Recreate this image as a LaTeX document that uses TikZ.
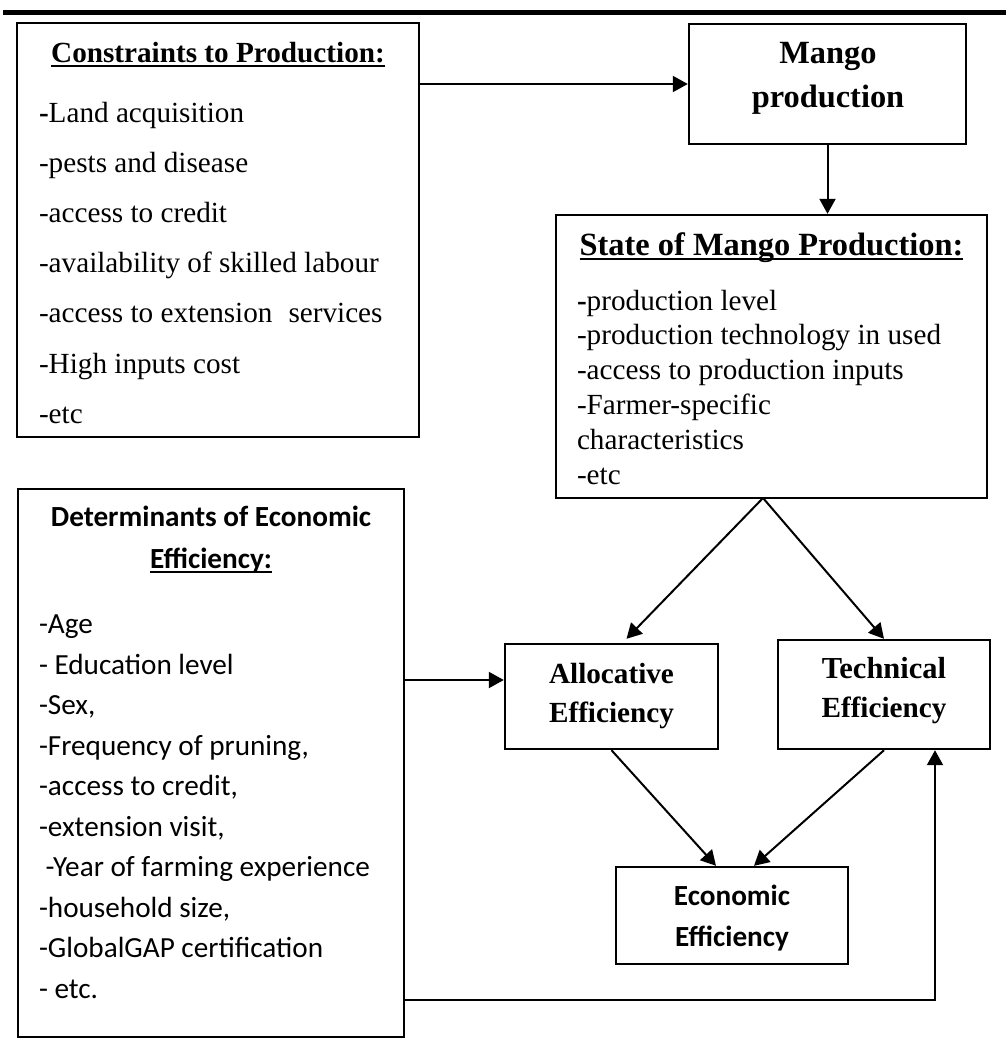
\documentclass[tikz,border=0pt]{standalone}
\usepackage{fontspec}
\setmainfont{Liberation Serif}
\newfontfamily\calibri{Carlito}
\usetikzlibrary{arrows.meta,calc,positioning}
\newcommand{\ultext}[1]{\setbox0\hbox{#1}\rlap{\rule[-5pt]{\wd0}{2pt}}\box0}

\begin{document}
\begin{tikzpicture}[x=1pt, y=-1pt, line width=2pt,
    every node/.style={inner sep=0pt, font=\fontsize{29.2}{35}\selectfont},
    box/.style={draw, line width=2.4pt},
    head/.style={anchor=base, font=\fontsize{29.2}{35}\selectfont\bfseries},
    bighead/.style={anchor=base, font=\fontsize{32.4}{38}\selectfont\bfseries},
    item/.style={anchor=base west},
    arr/.style={-{Triangle[length=15pt,width=16pt]}, line width=2pt}]

    % Page and top rule
    \useasboundingbox (0,0) rectangle (1006,1044);
    \fill (3,9.5) rectangle (1006,14.5);

    % Constraints to production
    \node[box, minimum width=402, minimum height=414] (cons) at (218,230) {};
    \node[head] (consT) at (218,62) {\ultext{Constraints to Production:}};
    \foreach \txt [count=\i from 0] in {{\textbf{-}Land acquisition}, -pests and disease,
        -access to credit, -availability of skilled labour,
        {-access to extension\hspace{16pt}services}, -High inputs cost, -etc}
        \node[item] (cons\i) at (38,{122+50.2*\i}) {\txt};

    % Mango production
    \node[box, minimum width=277, minimum height=120] (mango) at (827.5,84) {};
    \node[bighead] (mangoA) at (828,63) {Mango};
    \node[bighead] (mangoB) at (828,107) {production};

    % State of mango production
    \node[box, minimum width=431, minimum height=283] (state) at (771.5,356.5) {};
    \node[bighead] (stateT) at (771.5,255) {\ultext{State of Mango Production:}};
    \foreach \txt [count=\i from 0] in {{\textbf{-}production level},
        -production technology in used, -access to production inputs,
        -Farmer-specific, characteristics, -etc}
        \node[item] (state\i) at (576,{310+34.8*\i}) {\txt};

    % Determinants of economic efficiency
    \node[box, minimum width=386, minimum height=548] (det) at (211,763) {};
    \node[head, font=\fontsize{29.2}{35}\calibri\bfseries] (detT) at (211,526) {Determinants of Economic};
    \node[head, font=\fontsize{29.2}{35}\calibri\bfseries] (detU) at (211,568) {\ultext{Efficiency:}};
    \foreach \txt [count=\i from 0] in {-Age, - Education level, {-Sex,},
        {-Frequency of pruning,}, {-access to credit,}, {-extension visit,},
        \ -Year of farming experience, {-household size,},
        -GlobalGAP certification, - etc.}
        \node[item, font=\fontsize{29.2}{35}\calibri] (det\i) at (38,{633.5+40.5*\i}) {\txt};

    % Efficiency boxes
    \node[box, minimum width=213, minimum height=105] (alloc) at (611.5,696.5) {};
    \node[head] (allocA) at (611.5,683) {Allocative};
    \node[head] (allocB) at (611.5,722) {Efficiency};

    \node[box, minimum width=212, minimum height=109] (tech) at (884,694.5) {};
    \node[head, font=\fontsize{30.5}{36}\selectfont\bfseries] (techA) at (884,678) {Technical};
    \node[head] (techB) at (884,717) {Efficiency};

    \node[box, minimum width=232, minimum height=97] (econ) at (732,915.5) {};
    \node[head, font=\fontsize{29.2}{35}\calibri\bfseries] (econA) at (732,905) {Economic};
    \node[head, font=\fontsize{29.2}{35}\calibri\bfseries] (econB) at (732,946) {Efficiency};

    % Connectors
    \coordinate (split) at (763,498);
    \coordinate (detA) at (404,680);
    \coordinate (detB) at (404,1000);
    \draw[arr] (cons.east |- mango.west) -- (mango.west);
    \draw[arr] (mango.south) -- (mango.south |- state.north);
    \draw[arr] (split) -- ($(alloc.north)+(15,-4)$);
    \draw[arr] (split) -- (tech.north);
    \draw[arr] (alloc.south) -- ($(econ.north)+(-16,0)$);
    \draw[arr] (tech.south) -- ($(econ.north)+(22,0)$);
    \draw[arr] (detA) -- (alloc.west |- detA);
    \draw[arr] (detB) -| ($(tech.south)+(51,0)$);

\end{tikzpicture}
\end{document}
